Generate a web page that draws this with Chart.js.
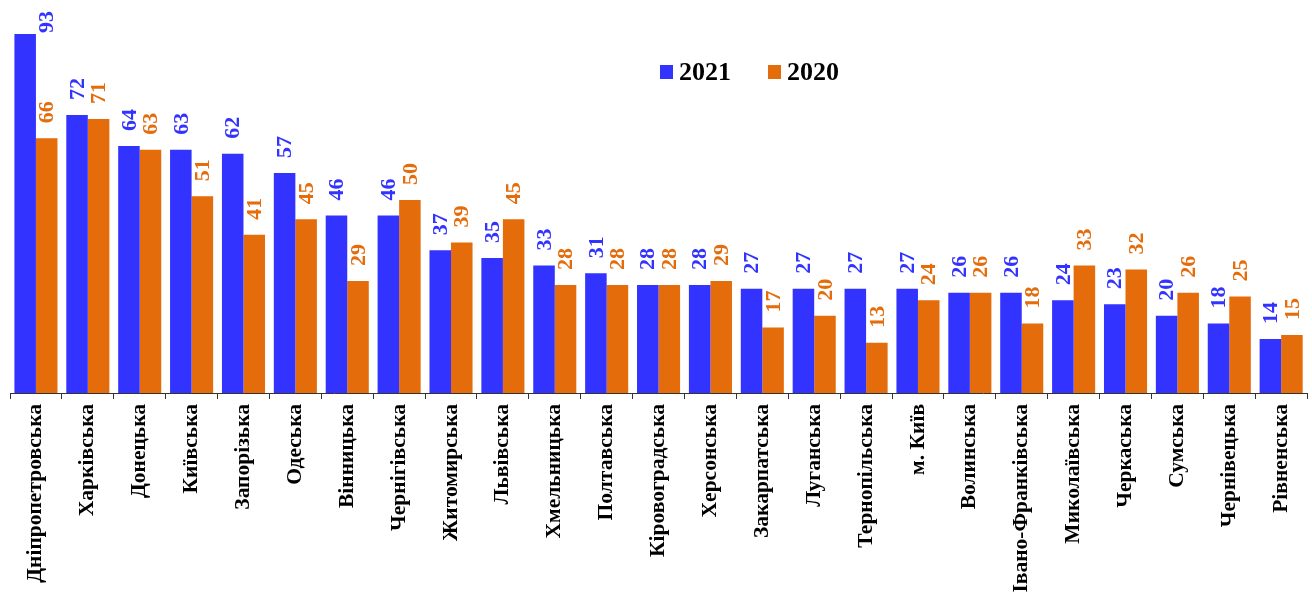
<!DOCTYPE html>
<html>
<head>
<meta charset="utf-8">
<script src="https://cdn.jsdelivr.net/npm/chart.js@4"></script>
<style>
  body { margin: 0; background: #fff; }
  #wrap { width: 1312px; height: 592px; }
</style>
</head>
<body>
<div id="wrap"><canvas id="myChart"></canvas></div>
<script>
let regions = ['Дніпропетровська', 'Харківська', 'Донецька', 'Київська', 'Запорізька', 'Одеська',
  'Вінницька', 'Чернігівська', 'Житомирська', 'Львівська', 'Хмельницька', 'Полтавська',
  'Кіровоградська', 'Херсонська', 'Закарпатська', 'Луганська', 'Тернопільська', 'м. Київ',
  'Волинська', 'Івано-Франківська', 'Миколаївська', 'Черкаська', 'Сумська', 'Чернівецька', 'Рівненська'];
let values2021 = [93, 72, 64, 63, 62, 57, 46, 46, 37, 35, 33, 31, 28, 28, 27, 27, 27, 27, 26, 26, 24, 23, 20, 18, 14];
let values2020 = [66, 71, 63, 51, 41, 45, 29, 50, 39, 45, 28, 28, 28, 29, 17, 20, 13, 24, 26, 18, 33, 32, 26, 25, 15];
let seriesNames = ['2021', '2020'];
let colors = ['#3333FF', '#E46C0A'];

const serif = '"Liberation Serif", "Times New Roman", serif';

// value labels above the bars, rotated like in the original
const barLabels = {
    id: 'barLabels',
    afterDatasetsDraw(chart) {
        const ctx = chart.ctx;
        ctx.save();
        ctx.font = 'bold 22px ' + serif;
        chart.data.datasets.forEach((ds, i) => {
            chart.getDatasetMeta(i).data.forEach((bar, j) => {
                const text = String(ds.data[j]);
                const w = ctx.measureText(text).width;
                let x = bar.x, y = bar.y - 15;
                if (y - w < 2) { // no room on top: put it beside the bar
                    x = bar.x + bar.width;
                    y = bar.y - 1;
                }
                ctx.save();
                ctx.translate(x, y);
                ctx.rotate(-Math.PI / 2);
                ctx.fillStyle = colors[i];
                ctx.textAlign = 'left';
                ctx.textBaseline = 'middle';
                ctx.fillText(text, 0, 1);
                ctx.restore();
            });
        });
        ctx.restore();
    }
};

// legend sits inside the plot
const innerLegend = {
    id: 'innerLegend',
    afterDraw(chart) {
        const ctx = chart.ctx;
        const pos = [660, 768];
        ctx.save();
        ctx.font = 'bold 26px ' + serif;
        ctx.textBaseline = 'middle';
        seriesNames.forEach((name, i) => {
            ctx.fillStyle = colors[i];
            ctx.fillRect(pos[i], 65, 13, 14);
            ctx.fillStyle = '#000';
            ctx.fillText(name, pos[i] + 19, 73);
        });
        ctx.restore();
    }
};

let chart = new Chart(document.getElementById('myChart').getContext('2d'), {
    type: 'bar',
    data: {
        labels: regions,
        datasets: [
            { label: seriesNames[0], data: values2021, backgroundColor: colors[0] },
            { label: seriesNames[1], data: values2020, backgroundColor: colors[1] }
        ]
    },
    options: {
        responsive: true,
        maintainAspectRatio: false,
        animation: false,
        layout: { padding: { left: 10, right: 2, top: 7, bottom: 0 } },
        datasets: { bar: { categoryPercentage: 0.83, barPercentage: 1.0 } },
        plugins: {
            legend: { display: false },
            tooltip: { enabled: false }
        },
        scales: {
            x: {
                afterFit(scale) { scale.height = 199; },
                border: { display: true, color: '#333', width: 1 },
                grid: { drawOnChartArea: false, drawTicks: true, tickLength: 6, color: '#333', offset: true },
                ticks: {
                    autoSkip: false,
                    minRotation: 90,
                    maxRotation: 90,
                    padding: 5,
                    color: '#000',
                    font: { family: serif, size: 21.5, weight: 'bold' }
                }
            },
            y: {
                display: false,
                min: 0,
                max: 100
            }
        }
    },
    plugins: [barLabels, innerLegend]
});
</script>
</body>
</html>
